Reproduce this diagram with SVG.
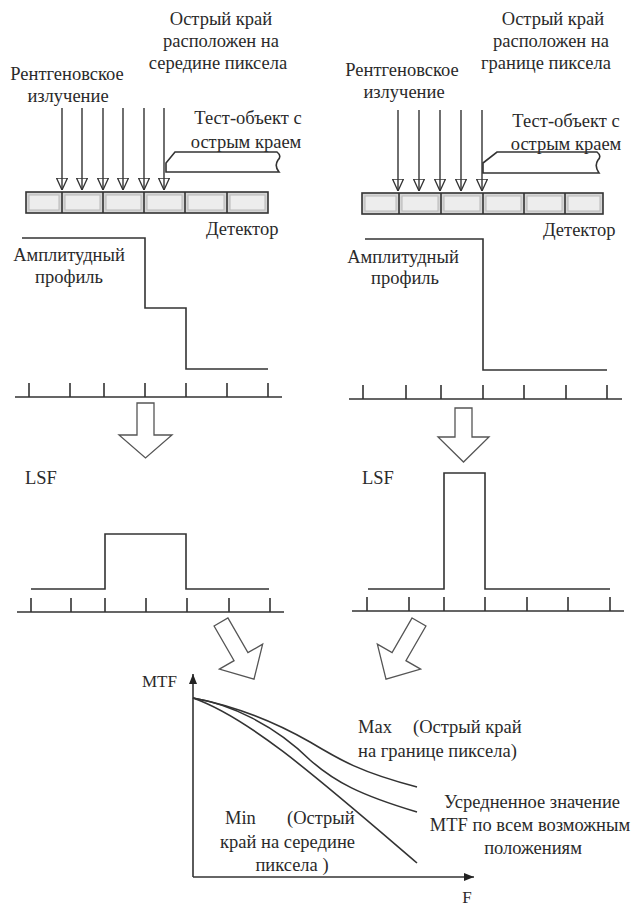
<svg xmlns="http://www.w3.org/2000/svg" width="639" height="906" viewBox="0 0 639 906" font-family="'Liberation Serif', 'DejaVu Serif', serif">
<style>
text{font-family:'Liberation Serif','DejaVu Serif',serif;font-size:18.5px;fill:#2a2a2a}
.m{text-anchor:middle}
.ln{fill:none;stroke:#333;stroke-width:1.6}
.ax{fill:none;stroke:#333;stroke-width:1.6}
.ray{stroke:#333;stroke-width:1.4;marker-end:url(#oh)}
.cell{fill:#ededed;stroke:#b8b8b8;stroke-width:1}
.det{fill:#d6d6d6;stroke:#333;stroke-width:1.6}
.hol{fill:#fff;stroke:#555;stroke-width:1.3}
</style>
<defs>
<marker id="oh" viewBox="0 0 12 12" refX="12" refY="6" markerWidth="12" markerHeight="12" markerUnits="userSpaceOnUse" orient="auto">
<path d="M0,0.5 L12,6 L0,11.5 Z" fill="none" stroke="#333" stroke-width="1.3"/>
</marker>
<marker id="fh" viewBox="0 0 10 10" refX="10" refY="5" markerWidth="10" markerHeight="10" markerUnits="userSpaceOnUse" orient="auto">
<path d="M0,1 L10,5 L0,9 Z" fill="#222"/>
</marker>
<path id="harrow" d="M-8,0 H8 V40 H25 L0,66 L-25,40 H-8 Z"/>
</defs>

<!-- LEFT PANEL -->
<g id="left-title">
<text class="m" x="221" y="25">Острый край</text>
<text class="m" x="221" y="47">расположен на</text>
<text class="m" x="218" y="69">середине пиксела</text>
</g>
<g id="left-xray-label">
<text class="m" x="67" y="80">Рентгеновское</text>
<text class="m" x="68" y="102">излучение</text>
</g>
<g id="left-test-label">
<text class="m" x="248" y="124">Тест-объект с</text>
<text class="m" x="246" y="148">острым краем</text>
</g>
<g id="left-test-object">
<path class="ln" d="M166,172 L166,163 L175,152 L277,152 Q282,156 278,160 Q274,166 279,172 Z" fill="#fff"/>
</g>
<g id="left-detector">
<rect class="det" x="26" y="192" width="242" height="21"/>
<rect class="cell" x="29" y="195" width="30" height="15"/>
<rect class="cell" x="65" y="195" width="35" height="15"/>
<rect class="cell" x="106" y="195" width="35" height="15"/>
<rect class="cell" x="147" y="195" width="35" height="15"/>
<rect class="cell" x="188" y="195" width="36" height="15"/>
<rect class="cell" x="230" y="195" width="35" height="15"/>
<path class="ln" d="M62,192 V213 M103,192 V213 M144,192 V213 M185,192 V213 M227,192 V213"/>
<text x="206" y="235">Детектор</text>
</g>
<g id="left-profile">
<text class="m" x="69" y="261">Амплитудный</text>
<text class="m" x="69" y="283">профиль</text>
<path class="ln" d="M22,238 H145 V308 H186 V369 H268"/>
<path class="ax" d="M15,397 H282 M29,383 V397 M70,383 V397 M104,383 V397 M145,383 V397 M186,383 V397 M227,383 V397 M268,383 V397"/>
</g>
<g id="left-down-arrow">
<path class="hol" d="M137,403 H154 V435 H172 L145.5,458 L119,435 H137 Z"/>
</g>
<g id="left-lsf">
<text x="25" y="484">LSF</text>
<path class="ln" d="M31,589 H105 V534 H186 V589 H269"/>
<path class="ax" d="M17,612 H284 M31,598 V612 M71,598 V612 M105,598 V612 M146,598 V612 M187,598 V612 M229,598 V612 M270,598 V612"/>
</g>
<g id="left-diag-arrow">
<use href="#harrow" class="hol" transform="translate(221,622) rotate(-30)"/>
</g>

<!-- RIGHT PANEL -->
<g id="right-title">
<text class="m" x="553" y="25">Острый край</text>
<text class="m" x="551" y="47">расположен на</text>
<text class="m" x="546" y="69">границе пиксела</text>
</g>
<g id="right-xray-label">
<text class="m" x="402" y="76">Рентгеновское</text>
<text class="m" x="404" y="98">излучение</text>
</g>
<g id="right-test-label">
<text class="m" x="566" y="127">Тест-объект с</text>
<text class="m" x="566" y="150">острым краем</text>
</g>
<g id="right-test-object">
<path class="ln" d="M483,173 L483,163 L497,152 L597,152 Q602,156 598,160 Q594,166 599,173 Z" fill="#fff"/>
</g>
<g id="right-detector">
<rect class="det" x="362" y="193" width="241" height="21"/>
<rect class="cell" x="365" y="196" width="31" height="15"/>
<rect class="cell" x="402" y="196" width="36" height="15"/>
<rect class="cell" x="444" y="196" width="36" height="15"/>
<rect class="cell" x="486" y="196" width="35" height="15"/>
<rect class="cell" x="527" y="196" width="35" height="15"/>
<rect class="cell" x="568" y="196" width="32" height="15"/>
<path class="ln" d="M399,193 V214 M441,193 V214 M483,193 V214 M524,193 V214 M565,193 V214"/>
<text x="543" y="236">Детектор</text>
</g>
<g id="right-profile">
<text class="m" x="403" y="263">Амплитудный</text>
<text class="m" x="405" y="284">профиль</text>
<path class="ln" d="M365,239 H483 V370 H607"/>
<path class="ax" d="M349,399 H622 M363,385 V399 M406,385 V399 M441,385 V399 M483,385 V399 M524,385 V399 M566,385 V399 M607,385 V399"/>
</g>
<g id="right-down-arrow">
<path class="hol" d="M455,408 H472 V437 H489 L463.5,462 L438,437 H455 Z"/>
</g>
<g id="right-lsf">
<text x="362" y="484">LSF</text>
<path class="ln" d="M368,589 H444 V473 H485 V589 H610"/>
<path class="ax" d="M352,611 H624 M367,597 V611 M409,597 V611 M444,597 V611 M485,597 V611 M527,597 V611 M568,597 V611 M610,597 V611"/>
</g>
<g id="right-diag-arrow">
<use href="#harrow" class="hol" transform="translate(419,622) rotate(30)"/>
</g>

<!-- CONNECTORS: x-ray beams -->
<g id="connectors">
<line class="ray" x1="62" y1="108" x2="62" y2="190"/>
<line class="ray" x1="82" y1="108" x2="82" y2="190"/>
<line class="ray" x1="103" y1="108" x2="103" y2="190"/>
<line class="ray" x1="123" y1="108" x2="123" y2="190"/>
<line class="ray" x1="144" y1="108" x2="144" y2="190"/>
<line class="ray" x1="164" y1="108" x2="164" y2="190"/>
<line class="ray" x1="398" y1="110" x2="398" y2="191"/>
<line class="ray" x1="419" y1="110" x2="419" y2="191"/>
<line class="ray" x1="440" y1="110" x2="440" y2="191"/>
<line class="ray" x1="461" y1="110" x2="461" y2="191"/>
<line class="ray" x1="482" y1="110" x2="482" y2="191"/>
</g>

<!-- MTF GRAPH -->
<g id="mtf-graph">
<path class="ax" d="M193,877 V674" marker-end="url(#fh)"/>
<path class="ax" d="M193,877 H474" marker-end="url(#fh)"/>
<text x="142" y="687" style="font-size:17px">MTF</text>
<text class="m" x="467" y="903" style="font-size:17px">F</text>
<path class="ln" d="M193,698 C235,706 275,722 310,742 C340,760 360,772 417,787"/>
<path class="ln" d="M193,698 C230,704 275,725 310,760 C335,782 360,795 417,812"/>
<path class="ln" d="M193,698 C250,718 320,780 417,863"/>
</g>
<g id="label-max">
<text x="358" y="733">Max</text>
<text x="413" y="733">(Острый край</text>
<text x="358" y="757">на границе пиксела)</text>
</g>
<g id="label-avg">
<text class="m" x="532" y="808">Усредненное значение</text>
<text class="m" x="530" y="831">MTF по всем возможным</text>
<text class="m" x="533" y="854">положениям</text>
</g>
<g id="label-min">
<text x="225" y="824">Min</text>
<text x="287" y="824">(Острый</text>
<text x="220" y="848">край на середине</text>
<text class="m" x="292" y="871">пиксела )</text>
</g>
</svg>
